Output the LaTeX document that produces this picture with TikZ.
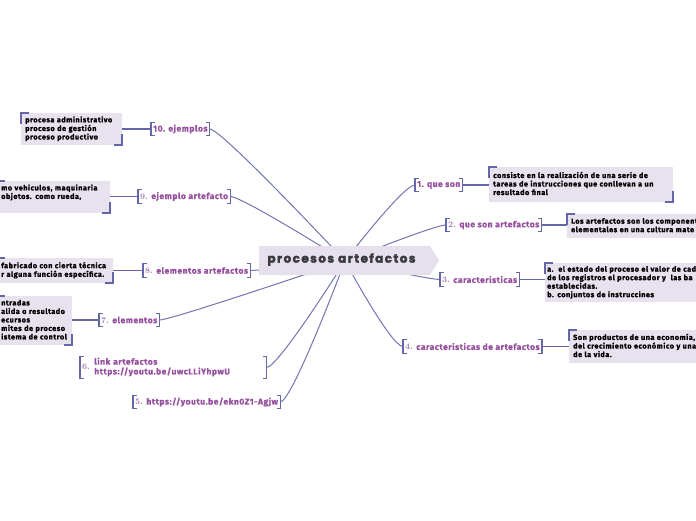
\documentclass[tikz,border=0pt]{standalone}
\usepackage{fontspec}
\usetikzlibrary{backgrounds}
\newfontfamily\brfam{Fira Sans}[LetterSpace=6, FakeBold=0.6]
\newfontfamily\detfam{Fira Sans}[LetterSpace=7, FakeBold=1.2]
\newfontfamily\ctrfam{Poppins}[LetterSpace=12, FakeBold=2.5]
\definecolor{purp}{RGB}{150,78,158}
\definecolor{numc}{RGB}{165,125,180}
\definecolor{slate}{RGB}{100,102,168}
\definecolor{lav}{RGB}{232,226,239}
\definecolor{ctrfill}{RGB}{230,224,237}
\definecolor{ctrtext}{RGB}{58,58,62}
\newcommand\nm[1]{{\rmfamily\color{numc}#1}}
\newcommand\tb[1]{\begin{tabular}{@{}l@{}}#1\end{tabular}}
\newcommand\brk[1]{%
 \draw[bkt] ([xshift=3.5pt]#1.north west) -- (#1.north west) -- (#1.south west) -- ([xshift=3.5pt]#1.south west);
 \draw[bkt] ([xshift=-3.5pt]#1.north east) -- (#1.north east) -- (#1.south east) -- ([xshift=-3.5pt]#1.south east);}
\newcommand\crn[1]{%
 \draw[cbkt] ([yshift=-11pt]#1.north west) -- (#1.north west) -- ([xshift=8pt]#1.north west);
 \draw[cbkt] ([yshift=11pt]#1.south east) -- (#1.south east) -- ([xshift=-8pt]#1.south east);}
\begin{document}
\begin{tikzpicture}[x=1pt,y=-1pt,
 bkt/.style={draw=slate, line width=1.3pt},
 cbkt/.style={draw=slate, line width=2pt},
 bn/.style={anchor=west, font=\brfam\bfseries\fontsize{8.5}{9.5}\selectfont, text=purp, inner xsep=2pt, inner ysep=0pt, minimum height=13pt},
 dn/.style={anchor=north west, fill=lav, font=\detfam\bfseries\fontsize{7.3}{8.5}\selectfont, align=left, inner xsep=4pt, inner ysep=0pt},
 link/.style={draw=slate, line width=1.1pt},
 conn/.style={draw=slate!90, line width=1pt},
 ctrstyle/.style={font=\ctrfam\bfseries\fontsize{12}{14}\selectfont, text=ctrtext, inner sep=0pt}]
\useasboundingbox (0,0) rectangle (696,520);

% central topic
\fill[ctrfill] (259,246) -- (430,246) -- (439,260.5) -- (430,275) -- (259,275) -- cycle;
\node[ctrstyle] (ctr) at (341.5,259.5) {procesos artefactos};
\coordinate (hub) at (345,261);

% branch nodes
\node[bn] (n10) at (151,129) {10. ejemplos};
\node[bn] (n9) at (138,196.5) {\nm{9.} ejemplo artefacto};
\node[bn] (n8) at (143,270.5) {\nm{8.} elementos artefactos};
\node[bn] (n7) at (99,320) {\nm{7.} elementos};
\node[bn, text width=182pt, minimum height=21pt, align=left] (n6) at (80,367.5) {\nm{6.} \tb{link artefactos\\https://youtu.be/uwcLLiYhpwU}};
\node[bn] (n5) at (133,402) {\nm{5.} https://youtu.be/ekn0Z1-Agjw};
\node[bn] (n1) at (415,185) {1. que son};
\node[bn] (n2) at (446,225) {\nm{2.} que son artefactos};
\node[bn] (n3) at (440,279.5) {\nm{3.} caracteristicas};
\node[bn] (n4) at (403,346.5) {\nm{4.} caracteristicas de artefactos};

% detail boxes
\node[dn, text width=93pt, minimum height=32pt] (d10) at (21,113) {\tb{procesa administrativo\\proceso de gestión\\proceso productivo}};
\node[dn, text width=105pt, minimum height=32pt] (d9) at (-3,181) {\tb{mo vehiculos, maquinaria\\objetos. como rueda,\\~}};
\node[dn, text width=108pt, minimum height=25pt] (d8) at (-3,258) {\tb{fabricado con cierta técnica\\r alguna función específica.}};
\node[dn, text width=67pt, minimum height=49pt] (d7) at (-3,296) {\tb{ntradas\\alida o resultado\\ecursos\\mites de proceso\\istema de control}};
\node[dn, text width=176pt, minimum height=35pt] (d1) at (489,167) {\tb{consiste en la realización de una serie de\\tareas de instrucciones que conllevan a un\\resultado final}};
\node[dn, text width=200pt, minimum height=24pt] (d2) at (567,214) {\tb{Los artefactos son los component\\elementales en una cultura mate}};
\node[dn, text width=200pt, minimum height=39pt, inner xsep=2pt] (d3) at (545,263) {\tb{a.\ \ el estado del proceso el valor de cad\\de los registros el procesador y\ \ las ba\\establecidas.\\b. conjuntos de instruccines}};
\node[dn, text width=200pt, minimum height=33pt] (d4) at (569,330) {\tb{Son productos de una economía,\\del crecimiento económico y una\\de la vida.}};

% links detail - branch
\draw[link] (d10.east |- n10.west) -- (n10.west);
\draw[link] (d9.east |- n9.west) -- (n9.west);
\draw[link] (d8.east |- n8.west) -- (n8.west);
\draw[link] (d7.east |- n7.west) -- (n7.west);
\draw[link] (n1.east) -- (n1.east -| d1.west);
\draw[link] (n2.east) -- (n2.east -| d2.west);
\draw[link] (n3.east) -- (n3.east -| d3.west);
\draw[link] (n4.east) -- (n4.east -| d4.west);

% brackets
\brk{n10}\brk{n9}\brk{n8}\brk{n7}\brk{n6}\brk{n5}\brk{n1}\brk{n2}\brk{n3}\brk{n4}
\crn{d10}\crn{d9}\crn{d8}\crn{d7}\crn{d1}\crn{d2}\crn{d3}\crn{d4}

% connectors to the central topic
\begin{scope}[on background layer]
\fill[white] (0,0) rectangle (696,520);
\draw[conn] (n10.east) .. controls +(12,0) and (hub) .. (hub);
\draw[conn] (n9.east) .. controls +(12,0) and (hub) .. (hub);
\draw[conn] (n8.east) .. controls +(12,0) and (hub) .. (hub);
\draw[conn] (n7.east) .. controls +(12,0) and (hub) .. (hub);
\draw[conn] (n6.east) .. controls +(12,0) and (hub) .. (hub);
\draw[conn] (n5.east) .. controls +(12,0) and (hub) .. (hub);
\draw[conn] (n1.west) .. controls +(-12,0) and (hub) .. (hub);
\draw[conn] (n2.west) .. controls +(-12,0) and (hub) .. (hub);
\draw[conn] (n3.west) .. controls +(-12,0) and (hub) .. (hub);
\draw[conn] (n4.west) .. controls +(-12,0) and (hub) .. (hub);
\end{scope}
\end{tikzpicture}
\end{document}
